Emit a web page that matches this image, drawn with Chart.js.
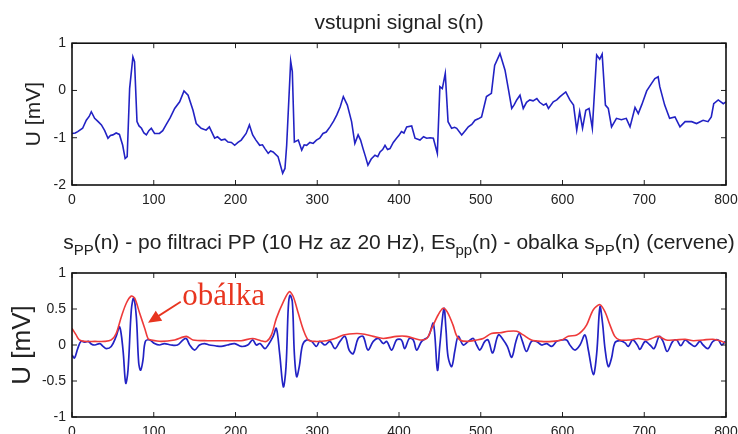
<!DOCTYPE html>
<html>
<head>
<meta charset="utf-8">
<script src="https://cdn.jsdelivr.net/npm/chart.js@4.4.1/dist/chart.umd.min.js"></script>
<style>
html, body { margin: 0; padding: 0; background: #fff; overflow: hidden; }
#wrap { position: relative; width: 738px; height: 434px; overflow: hidden; background: #fff; }
#top { position: absolute; left: 0; top: 0; }
#bot { position: absolute; left: 0; top: 217px; }
</style>
</head>
<body>
<div id="wrap">
  <canvas id="top" width="738" height="217"></canvas>
  <canvas id="bot" width="738" height="245"></canvas>
</div>
<script>
// input signal s(n)
var sN = [0, 4, 7, 13, 17.5, 21, 23.6, 27.7, 32, 36, 40, 44, 47, 50, 54, 58, 62, 65, 67.5, 70.5, 74.5, 76.5, 79.5, 82, 85, 88, 91, 94, 97, 101,
  107, 111, 115, 120, 125.6, 131.7, 137, 142, 148, 152, 158, 164, 168, 174.5, 178, 182.6, 187, 190.8, 195, 199, 203, 207, 213, 217, 221, 225, 229.6,
  233, 236, 240, 243, 246, 252, 257.7, 260.5, 262.6, 267.5, 269.5, 272, 276.8, 281, 284, 287, 291, 295, 299, 303, 307, 311, 315.6, 320, 323.8, 328,
  331.9, 336.8, 342, 346, 350, 353, 356, 359, 362, 366, 370.6, 374, 376.8, 380, 382.9, 386, 389, 393, 397, 400, 403, 406, 409.4, 415.5, 419.6,
  425.7, 430, 433.9, 438, 442, 446.9, 450, 453, 456.6, 460, 464.4, 468, 470.6, 476.7, 481, 484.8, 489, 493, 497, 501, 507, 513, 517, 523.5, 529.7,
  533.7, 537.9, 541, 544, 548, 552, 556, 560, 564, 568.6, 572, 576.7, 580, 582.8, 588.7, 593, 597, 604, 609, 613.5, 617.4, 621, 624.5, 628.5, 632.5,
  636.5, 641.8, 645.5, 648.5, 652.5, 656, 660, 666, 672, 678, 682.6, 688.7, 692.7, 697, 703, 709, 713, 717, 719, 725, 731, 737.6, 743.7, 750, 758,
  764, 772, 778, 782, 785, 790.5, 796.7, 800];
var sU = [-0.91, -0.90, -0.87, -0.80, -0.63, -0.55, -0.45, -0.59, -0.66, -0.73, -0.85, -1.01, -0.95, -0.94, -0.90, -0.93, -1.16, -1.44, -1.40, 0.04,
  0.71, 0.61, -0.66, -0.75, -0.80, -0.90, -0.94, -0.85, -0.80, -0.91,
  -0.91, -0.85, -0.73, -0.58, -0.38, -0.24, -0.01, -0.10, -0.42, -0.70, -0.80, -0.84, -0.77, -1.01, -0.98, -1.05, -1.03, -1.09, -1.10, -1.16, -1.10,
  -1.05, -0.91, -0.73, -0.94, -1.05, -1.16,
  -1.15, -1.23, -1.33, -1.28, -1.30, -1.40, -1.75, -1.65, -1.16, 0.62, 0.40, -1.09, -1.05, -1.26, -1.15, -1.16, -1.10, -1.12, -1.05, -1.01, -0.91,
  -0.88, -0.77, -0.65, -0.52, -0.35,
  -0.13, -0.31, -0.66, -1.12, -0.94, -1.05, -1.23, -1.40, -1.58, -1.45, -1.37, -1.40, -1.30, -1.25, -1.16, -1.25, -1.23, -1.10, -1.01, -0.95, -0.87,
  -0.90, -0.77, -0.75, -1.01,
  -1.05, -0.98, -1.01, -1.00, -1.01, -1.33, 0.08, 0.04, 0.36, -0.66, -0.80, -0.78, -0.80, -0.94, -0.85, -0.77, -0.72, -0.63, -0.60, -0.56, -0.13,
  -0.06, 0.53, 0.78, 0.43,
  0.04, -0.38, -0.30, -0.20, -0.10, -0.38, -0.25, -0.20, -0.22, -0.17, -0.25, -0.31, -0.28, -0.38, -0.24, -0.20, -0.13, -0.03, -0.20, -0.31, -0.84,
  -0.45, -0.80, -0.42, -0.38,
  -0.80, 0.75, 0.66, 0.77, -0.31, -0.38, -0.77, -0.59, -0.62, -0.59, -0.77, -0.36, -0.49, -0.30, -0.01, 0.15, 0.25, 0.29, 0.08, -0.31, -0.59, -0.56,
  -0.77, -0.66, -0.66,
  -0.70, -0.63, -0.66, -0.56, -0.28, -0.20, -0.28, -0.24];

// band-pass filtered signal s_PP(n)
var ppN = [0, 3, 7, 11, 16, 20, 24, 28, 34, 38, 42, 48, 54, 58.3, 62.4, 65.7, 68.5, 72.6, 75.4, 78.7, 81.6, 84, 86.8, 89.7, 95, 101, 107, 113, 121,
  129, 135.8, 139.8, 144, 150, 156, 162, 168, 175, 182.6, 190, 199, 207, 215, 221, 225.5, 230, 236, 240, 246, 250, 254, 258.5, 261.8, 264.6, 266.7,
  269.5, 272, 274.8, 278, 282, 287, 293, 299, 303, 309.5, 315.6, 321.7, 327.8, 334, 339, 344, 350, 356, 362, 368.5, 374.7, 380.8, 385, 391, 397, 403,
  407, 412.6, 417.5, 421.6, 427.7, 436, 442, 447, 450, 455, 457.5, 460, 464.4, 468.5, 472.5, 478.6, 484.8, 490.9, 495, 499, 505, 509, 514.6, 521.5,
  527.6, 532.5, 537.9, 543, 547, 551, 556, 562, 568, 574.5, 580.7, 586.8, 592.9, 599, 605, 609, 615.3, 621.4, 627.5, 631.6, 637.7, 641.8, 645.8,
  649, 652, 656, 660, 664, 670, 676.5, 680.5, 685.8, 691.5, 694.8, 701, 707, 712, 718.4, 723, 728, 734.8, 739.7, 744.6, 750, 756, 762, 768, 772,
  778, 784, 790.5, 794.7, 799];
var ppU = [-0.14, -0.18, -0.05, 0.05, 0.04, 0.05, 0.01, 0, 0.02, -0.02, -0.05, -0.02, 0.12, 0.25, -0.07, -0.53, -0.35, 0.49, 0.65, 0.39, -0.25,
  -0.35, -0.21, 0.05, 0.07, 0.02, 0, 0.02, 0,
  0, 0.07, 0.09, 0, -0.07, 0, 0.02, 0, -0.01, -0.02, 0, 0.02, -0.02, 0, 0.07, 0, 0.02, -0.05, 0, 0.12, 0.23, -0.12, -0.58, -0.30, 0.53, 0.69,
  0.60, -0.12, -0.44, -0.30, 0, 0.07, 0.05, -0.02, 0.05, 0, 0.05, -0.05, 0.05, 0.12, -0.07, -0.12, 0.09, 0.12, -0.07, 0.05, 0.09, 0.02, 0.05, -0.07,
  0.07, 0.07,
  -0.05, 0.09, 0.07, -0.07, 0.05, 0.12, 0.30, -0.35, 0, 0.51, 0.21, -0.16, -0.30, -0.07, 0.12, 0, 0.05, 0.09, 0, -0.07, 0.05, 0.07, -0.11, 0.14,
  0.07, -0.02, -0.17, 0.05, 0.16, 0.05, -0.09, 0.05, 0.05, 0, 0.02, -0.02, 0.05, 0.07, 0.07, 0, -0.07, 0, 0.14, -0.07, -0.41, -0.12, 0.53,
  0.30, -0.05, -0.30, -0.18, 0.03, 0.06, 0.03, -0.02, 0.07, 0, -0.06, 0.05, 0, -0.05, 0.12, 0.05, -0.09, 0.05, 0.07, -0.01, 0.07, 0.02, -0.02, 0.05, 0,
  -0.05, 0.05, 0.07, 0, 0.05];

// envelope Es_pp(n)
var envN = [0, 5, 9, 15, 28, 40, 48, 54, 60.3, 66.4, 72.6, 76.7, 82.8, 89, 93, 97, 109, 125.6, 139.8, 148, 166, 190.8, 207, 221, 231, 238, 244,
  250, 258.5, 265.8, 270.7, 276.8, 283, 289, 297, 311.5, 321.7, 332, 348, 358, 368.5, 380.8, 397, 409, 425.7, 434, 440, 448, 454, 459, 466, 470,
  474.6, 482.8, 495, 503, 513, 523.5, 533.7, 544, 552, 562, 574, 587, 599, 607, 617.4, 623.5, 629.6, 637.7, 645.8, 652, 658, 664, 670, 682.5,
  692.7, 703, 709, 717, 727, 737.6, 750, 760, 772, 784, 792.6, 799];
var envU = [0.23, 0.14, 0.07, 0.05, 0.05, 0.05, 0.07, 0.16, 0.39, 0.58, 0.68, 0.65, 0.44, 0.23, 0.09, 0.07, 0.05, 0.07, 0.12, 0.07, 0.06, 0.06,
  0.06, 0.09, 0.06, 0.05, 0.14,
  0.37, 0.60, 0.74, 0.67, 0.44, 0.21, 0.07, 0.05, 0.06, 0.09, 0.14, 0.16, 0.15, 0.12, 0.09, 0.12, 0.12, 0.07, 0.09, 0.23, 0.42, 0.51, 0.46, 0.28, 0.14,
  0.07, 0.05, 0.07, 0.09, 0.16, 0.17, 0.19, 0.19, 0.14, 0.07, 0.05, 0.05, 0.07, 0.12, 0.14, 0.19, 0.28, 0.49, 0.56, 0.46, 0.28, 0.12, 0.07, 0.07,
  0.09, 0.07, 0.09, 0.12, 0.07, 0.07, 0.08, 0.06, 0.07, 0.08, 0.06, 0.03];

var xTicks = [0, 100, 200, 300, 400, 500, 600, 700, 800];

function pts(xs, ys) {
  return xs.map(function (x, i) { return { x: x, y: ys[i] }; });
}

var tickFont = { family: 'Arial, "Liberation Sans", sans-serif', size: 14 };

// matlab style box with inward ticks
var boxPlugin = {
  id: 'box',
  afterDraw: function (chart) {
    var ctx = chart.ctx, a = chart.chartArea;
    ctx.save();
    ctx.strokeStyle = '#222';
    ctx.lineWidth = 1;
    ctx.beginPath();
    chart.scales.x.ticks.forEach(function (t) {
      var px = chart.scales.x.getPixelForValue(t.value);
      ctx.moveTo(px, a.bottom); ctx.lineTo(px, a.bottom - 5);
      ctx.moveTo(px, a.top); ctx.lineTo(px, a.top + 5);
    });
    chart.scales.y.ticks.forEach(function (t) {
      var py = chart.scales.y.getPixelForValue(t.value);
      ctx.moveTo(a.left, py); ctx.lineTo(a.left + 5, py);
      ctx.moveTo(a.right, py); ctx.lineTo(a.right - 5, py);
    });
    ctx.stroke();
    ctx.lineWidth = 1.6;
    ctx.strokeStyle = '#111';
    ctx.strokeRect(a.left, a.top, a.right - a.left, a.bottom - a.top);
    ctx.restore();
  }
};

function makeScales(yMin, yMax, yStep, yTitleSize, yTitlePad, xHeight) {
  return {
    x: {
      type: 'linear', min: 0, max: 800,
      afterBuildTicks: function (s) { s.ticks = xTicks.map(function (v) { return { value: v }; }); },
      grid: { display: false, drawTicks: false },
      border: { display: false },
      ticks: { font: tickFont, color: '#222', padding: 7, maxRotation: 0 },
      afterFit: function (s) { s.height = xHeight; s.paddingLeft = 0; s.paddingRight = 0; }
    },
    y: {
      min: yMin, max: yMax,
      grid: { display: false, drawTicks: false },
      border: { display: false },
      ticks: {
        stepSize: yStep, font: tickFont, color: '#222', padding: 6,
        callback: function (v) { return String(v); }
      },
      title: {
        display: true, text: 'U [mV]', color: '#222',
        font: { family: 'Arial, "Liberation Sans", sans-serif', size: yTitleSize },
        padding: { top: yTitlePad, bottom: 0 }
      },
      afterFit: function (s) { s.width = 72; }
    }
  };
}

new Chart(document.getElementById('top'), {
  type: 'line',
  data: {
    datasets: [{
      data: pts(sN, sU),
      borderColor: '#2222c4',
      borderWidth: 1.6,
      pointRadius: 0,
      tension: 0,
      fill: false
    }]
  },
  options: {
    responsive: false,
    animation: false,
    layout: { padding: { left: 0, right: 12, top: 0, bottom: 0 } },
    plugins: {
      legend: { display: false },
      tooltip: { enabled: false },
      title: {
        display: true, text: 'vstupni signal s(n)', color: '#222', fullSize: false,
        font: { family: 'Arial, "Liberation Sans", sans-serif', size: 21, weight: 'normal' },
        padding: { top: 11, bottom: 7 }
      }
    },
    scales: makeScales(-2, 1, 1, 21, 22, 32)
  },
  plugins: [boxPlugin]
});

// title with subscripts + "obálka" arrow
var botDecor = {
  id: 'botDecor',
  afterDraw: function (chart) {
    var ctx = chart.ctx, a = chart.chartArea;
    var parts = [
      ['s', 0], ['PP', 1], ['(n) - po filtraci PP (10 Hz az 20 Hz), Es', 0], ['pp', 1],
      ['(n) - obalka s', 0], ['PP', 1], ['(n) (cervene)', 0]
    ];
    var mainF = '21px Arial, "Liberation Sans", sans-serif';
    var subF = '15px Arial, "Liberation Sans", sans-serif';
    ctx.save();
    ctx.textBaseline = 'alphabetic';
    ctx.fillStyle = '#222';
    var w = 0;
    parts.forEach(function (p) { ctx.font = p[1] ? subF : mainF; w += ctx.measureText(p[0]).width; });
    var x = (a.left + a.right) / 2 - w / 2, base = 32;
    parts.forEach(function (p) {
      ctx.font = p[1] ? subF : mainF;
      ctx.fillText(p[0], x, p[1] ? base + 6 : base);
      x += ctx.measureText(p[0]).width;
    });

    var xs = chart.scales.x, ys = chart.scales.y;
    var tx = xs.getPixelForValue(93), ty = ys.getPixelForValue(0.31);
    var sx = xs.getPixelForValue(133), sy = ys.getPixelForValue(0.60);
    var ang = Math.atan2(ty - sy, tx - sx);
    ctx.strokeStyle = '#e8351f';
    ctx.fillStyle = '#e8351f';
    ctx.lineWidth = 1.8;
    ctx.beginPath();
    ctx.moveTo(sx, sy);
    ctx.lineTo(tx - 8 * Math.cos(ang), ty - 8 * Math.sin(ang));
    ctx.stroke();
    ctx.beginPath();
    ctx.moveTo(tx, ty);
    ctx.lineTo(tx - 13 * Math.cos(ang) + 6 * Math.sin(ang), ty - 13 * Math.sin(ang) - 6 * Math.cos(ang));
    ctx.lineTo(tx - 13 * Math.cos(ang) - 6 * Math.sin(ang), ty - 13 * Math.sin(ang) + 6 * Math.cos(ang));
    ctx.closePath();
    ctx.fill();
    ctx.font = '31px "Liberation Serif", "Times New Roman", serif';
    ctx.fillText('obálka', xs.getPixelForValue(135), ys.getPixelForValue(0.555));
    ctx.restore();
  }
};

new Chart(document.getElementById('bot'), {
  type: 'line',
  data: {
    datasets: [{
      data: pts(envN, envU),
      borderColor: '#ee3a3a',
      borderWidth: 1.6,
      pointRadius: 0,
      tension: 0.3,
      fill: false,
      order: 0
    }, {
      data: pts(ppN, ppU),
      borderColor: '#2222c4',
      borderWidth: 1.7,
      pointRadius: 0,
      tension: 0.35,
      fill: false,
      order: 1
    }]
  },
  options: {
    responsive: false,
    animation: false,
    layout: { padding: { left: 0, right: 12, top: 56, bottom: 0 } },
    plugins: { legend: { display: false }, tooltip: { enabled: false } },
    scales: makeScales(-1, 1, 0.5, 26, 7, 45)
  },
  plugins: [boxPlugin, botDecor]
});
</script>
</body>
</html>
